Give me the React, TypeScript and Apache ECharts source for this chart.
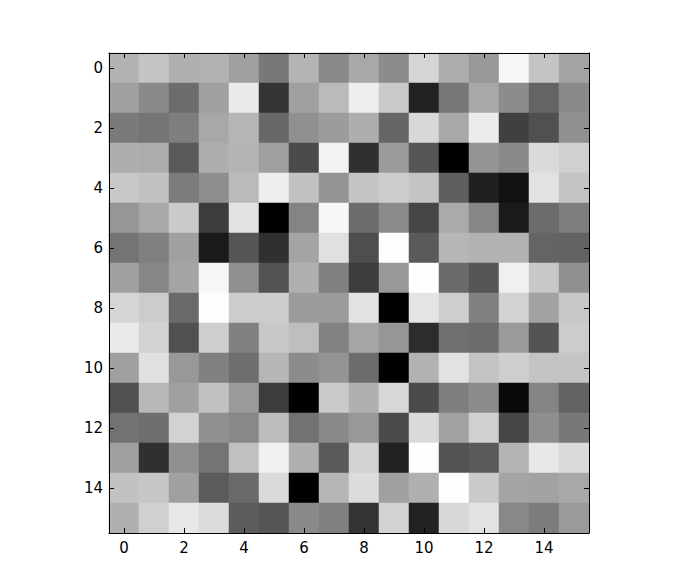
import React, { useEffect, useRef } from "react";
import * as echarts from "echarts";

const rowLabels = ["0","1","2","3","4","5","6","7","8","9","10","11","12","13","14","15"];
const colLabels = ["0","1","2","3","4","5","6","7","8","9","10","11","12","13","14","15"];

const row0 = [178,196,176,178,160,120,180,138,168,140,214,172,152,246,196,164];
const row1 = [160,138,108,160,234,52,160,186,238,202,34,120,168,140,100,138];
const row2 = [122,116,126,168,182,104,144,156,174,102,216,168,236,64,80,144];
const row3 = [174,172,90,174,180,160,74,242,48,156,86,0,148,138,218,208];
const row4 = [200,194,124,142,186,238,194,148,196,204,196,94,32,18,226,196];
const row5 = [150,168,202,60,226,0,132,248,108,140,70,170,134,26,108,126];
const row6 = [116,128,160,26,86,48,164,224,78,254,90,182,178,178,100,98];
const row7 = [160,134,164,246,144,82,176,128,60,152,254,106,86,240,200,144];
const row8 = [214,204,106,254,204,204,156,156,226,0,228,206,128,210,162,200];
const row9 = [234,210,80,206,128,200,190,130,166,150,44,112,108,154,84,204];
const row10 = [160,224,152,128,110,182,140,148,108,0,178,226,196,206,196,196];
const row11 = [80,184,160,194,154,60,0,202,176,216,74,126,140,10,132,98];
const row12 = [114,110,210,144,136,188,114,138,152,74,218,162,208,70,142,120];
const row13 = [160,48,144,116,192,240,176,90,210,34,254,84,90,180,232,218];
const row14 = [194,198,160,92,106,218,0,182,220,160,176,254,202,164,162,168];
const row15 = [176,208,232,220,92,86,138,128,52,210,34,216,226,136,124,154];

const rows = [row0,row1,row2,row3,row4,row5,row6,row7,row8,row9,row10,row11,row12,row13,row14,row15];

export default function App() {
  const ref = useRef<HTMLDivElement>(null);
  useEffect(() => {
    if (!ref.current) return;
    const chart = echarts.init(ref.current, null, { renderer: "svg" });
    const data: number[][] = [];
    rows.forEach((r, i) => r.forEach((v, j) => data.push([j, i, v])));
    const font = { fontFamily: "DejaVu Sans", fontSize: 15, color: "#000" };
    const tick = { show: true, inside: true, length: 5, interval: 1, alignWithLabel: true, lineStyle: { color: "#000", width: 1 } };
    const line = { show: true, lineStyle: { color: "#000", width: 1 } };
    chart.setOption({
      animation: false,
      backgroundColor: "#fff",
      grid: { left: 109, top: 53, width: 480, height: 480, show: false },
      xAxis: [
        { type: "category", z: 10, data: colLabels, position: "bottom", axisLine: line, axisTick: tick, axisLabel: { ...font, interval: 1, margin: 7 }, splitLine: { show: false } },
        { type: "category", z: 10, data: colLabels, position: "top", axisLine: line, axisTick: tick, axisLabel: { show: false }, splitLine: { show: false } },
      ],
      yAxis: [
        { type: "category", z: 10, data: rowLabels, inverse: true, position: "left", axisLine: line, axisTick: tick, axisLabel: { ...font, interval: 1, margin: 6 }, splitLine: { show: false } },
        { type: "category", z: 10, data: rowLabels, inverse: true, position: "right", axisLine: line, axisTick: tick, axisLabel: { show: false }, splitLine: { show: false } },
      ],
      visualMap: { show: false, min: 0, max: 255, dimension: 2, inRange: { color: ["#000000", "#ffffff"] } },
      series: [
        { type: "heatmap", z: 1, xAxisIndex: 0, yAxisIndex: 0, data, itemStyle: { borderWidth: 0 }, emphasis: { disabled: true } },
      ],
    });
    return () => chart.dispose();
  }, []);
  return <div ref={ref} style={{ width: 677, height: 585, position: "absolute", left: 0, top: 0 }} />;
}
